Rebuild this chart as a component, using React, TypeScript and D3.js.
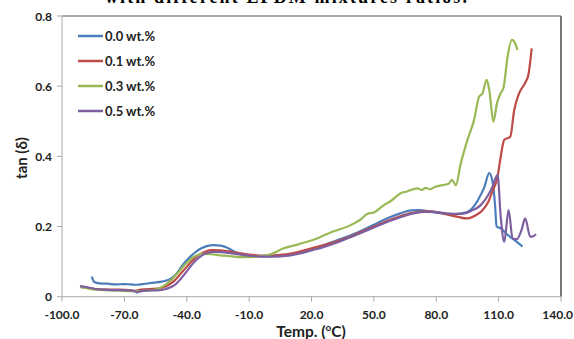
import React from "react";
import * as d3 from "d3";

const seriesNames = ["0.0 wt.%", "0.1 wt.%", "0.3 wt.%", "0.5 wt.%"];
const seriesColors = ["#4a7ebb", "#be4b48", "#98b954", "#7d5fa0"];

const blue: [number, number][] = [[-85.7,0.057],[-84.5,0.042],[-82,0.038],[-78,0.037],[-74,0.035],[-70,0.036],[-67,0.035],[-64,0.034],[-60,0.037],[-56,0.04],[-52,0.043],[-48,0.05],[-45,0.065],[-42,0.09],[-39,0.11],[-36,0.126],[-33,0.138],[-30,0.145],[-27,0.147],[-23,0.145],[-20,0.138],[-17,0.128],[-13,0.121],[-8,0.117],[-3,0.115],[2,0.116],[8,0.119],[14,0.125],[20,0.135],[26,0.147],[32,0.16],[38,0.173],[44,0.188],[50,0.205],[56,0.222],[62,0.236],[68,0.246],[72,0.247],[76,0.244],[82,0.238],[88,0.235],[93,0.238],[97,0.25],[100,0.275],[103,0.31],[105.5,0.352],[107,0.33],[108.3,0.26],[109,0.2],[111,0.195],[114,0.178],[118,0.16],[121.5,0.143]];

const red: [number, number][] = [[-91.3,0.028],[-88,0.025],[-84,0.022],[-80,0.021],[-76,0.02],[-72,0.02],[-68,0.019],[-65,0.017],[-62,0.02],[-58,0.022],[-54,0.023],[-50,0.03],[-46,0.045],[-43,0.065],[-40,0.085],[-37,0.105],[-34,0.12],[-31,0.129],[-28,0.133],[-24,0.132],[-20,0.129],[-15,0.124],[-10,0.12],[-5,0.117],[0,0.117],[5,0.119],[10,0.123],[15,0.13],[20,0.138],[26,0.147],[32,0.157],[38,0.17],[44,0.185],[50,0.2],[56,0.215],[62,0.228],[68,0.238],[74,0.243],[78,0.243],[84,0.236],[90,0.228],[95,0.223],[99,0.232],[102,0.245],[105,0.27],[107,0.3],[109.5,0.342],[111,0.399],[112.7,0.447],[114.3,0.452],[115.6,0.456],[117.5,0.532],[119.9,0.58],[123.1,0.613],[124.3,0.632],[125.9,0.708]];

const green: [number, number][] = [[-91.3,0.028],[-88,0.024],[-84,0.02],[-80,0.019],[-76,0.018],[-72,0.017],[-68,0.016],[-65,0.015],[-62,0.016],[-58,0.018],[-54,0.022],[-50,0.035],[-47,0.05],[-44,0.07],[-41,0.09],[-38,0.108],[-35,0.118],[-32,0.122],[-28,0.121],[-24,0.118],[-20,0.116],[-15,0.113],[-10,0.113],[-5,0.115],[0,0.12],[6.6,0.138],[14,0.15],[22.7,0.166],[30,0.185],[38.8,0.204],[44,0.222],[46.8,0.236],[50,0.24],[54.8,0.261],[58,0.272],[62.9,0.295],[66,0.3],[70.9,0.309],[73,0.304],[75,0.31],[77,0.306],[79,0.312],[83,0.318],[86,0.322],[87.5,0.333],[88.5,0.325],[89.4,0.318],[91.8,0.38],[95,0.447],[98.2,0.504],[100.6,0.57],[102.3,0.58],[104.2,0.618],[105.5,0.589],[107.5,0.499],[109.2,0.551],[111,0.58],[112.4,0.597],[114.3,0.684],[116.4,0.732],[117.5,0.727],[119.1,0.703]];

const purple: [number, number][] = [[-91.3,0.03],[-88,0.027],[-84,0.022],[-80,0.02],[-76,0.019],[-72,0.019],[-68,0.018],[-65,0.016],[-64,0.012],[-62,0.016],[-58,0.018],[-54,0.018],[-50,0.022],[-46,0.032],[-43,0.05],[-40,0.072],[-37,0.095],[-34,0.112],[-31,0.123],[-27,0.128],[-23,0.127],[-19,0.124],[-14,0.12],[-9,0.116],[-4,0.114],[0,0.114],[5,0.115],[10,0.118],[15,0.124],[20,0.132],[26,0.142],[32,0.154],[38,0.168],[44,0.182],[50,0.197],[56,0.212],[62,0.225],[68,0.236],[74,0.242],[80,0.241],[86,0.237],[92,0.236],[97,0.245],[101.4,0.261],[105,0.29],[107,0.313],[109.5,0.347],[111,0.228],[112.7,0.157],[114.8,0.247],[116.7,0.166],[118.8,0.164],[121,0.19],[122.8,0.223],[125.2,0.171],[126.5,0.172],[128,0.178]];

const seriesData = [blue, red, green, purple];
const xTicks = [-100, -70, -40, -10, 20, 50, 80, 110, 140];
const yTicks = [0, 0.2, 0.4, 0.6, 0.8];

const W = 574, H = 339;
const left = 62, right = 561, top = 16, bottom = 296.7;
const font = "Lato, 'Open Sans', sans-serif";

export default function App() {
  const x = d3.scaleLinear().domain([-100, 140]).range([left, right]);
  const y = d3.scaleLinear().domain([0, 0.8]).range([bottom, top]);
  const line = d3.line<[number, number]>().x(d => x(d[0])).y(d => y(d[1])).curve(d3.curveMonotoneX);
  return (
    <svg width={W} height={H} style={{ position: "absolute", left: 0, top: 0, background: "#fff" }}>
      <rect x={0} y={0} width={W} height={H} fill="#fff" />
      <text x={286} y={3} textAnchor="middle" fontFamily="'Liberation Serif', serif" fontWeight="bold" fontSize={18} textLength={362} fill="#000">with different EPDM mixtures ratios.</text>
      <line x1={left} x2={right} y1={top} y2={top} stroke="#555" strokeWidth={1.2} />
      <line x1={right} x2={right} y1={top} y2={bottom} stroke="#777" strokeWidth={2} />
      <line x1={left} x2={left} y1={top} y2={bottom} stroke="#aaa" strokeWidth={1} />
      <line x1={left} x2={right} y1={bottom} y2={bottom} stroke="#aaa" strokeWidth={1} />
      {yTicks.map(t => (
        <g key={"y" + t}>
          <line x1={left - 5} x2={left} y1={y(t)} y2={y(t)} stroke="#aaa" />
          <text x={52} y={y(t) + 4.5} textAnchor="end" fontFamily={font} fontWeight="bold" fontSize={12} fill="#222">{t === 0 ? "0" : t.toFixed(1)}</text>
        </g>
      ))}
      {xTicks.map((t, i) => {
        const last = i === xTicks.length - 1;
        return (
          <g key={"x" + t}>
            <line x1={x(t)} x2={x(t)} y1={bottom} y2={bottom + 5} stroke="#aaa" />
            <text x={last ? 573 : x(t)} y={319} textAnchor={last ? "end" : "middle"} fontFamily={font} fontWeight="bold" fontSize={12} fill="#222">{t.toFixed(1)}</text>
          </g>
        );
      })}
      <text transform={`translate(27,158) rotate(-90)`} textAnchor="middle" fontFamily={font} fontWeight="bold" fontSize={15} fill="#222">tan (δ)</text>
      <text x={311} y={337} textAnchor="middle" fontFamily={font} fontWeight="bold" fontSize={15.5} fill="#222">
        Temp. (<tspan dy={-6} fontSize={10}>o</tspan><tspan dy={6}>C)</tspan>
      </text>
      {seriesData.map((d, i) => (
        <path key={i} d={line(d) || ""} fill="none" stroke={seriesColors[i]} strokeWidth={2.2} strokeLinejoin="round" />
      ))}
      {seriesNames.map((n, i) => (
        <g key={n}>
          <line x1={78} x2={103} y1={36 + i * 25} y2={36 + i * 25} stroke={seriesColors[i]} strokeWidth={2.5} />
          <text x={105} y={40.5 + i * 25} fontFamily={font} fontWeight="bold" fontSize={13} fill="#222">{n}</text>
        </g>
      ))}
    </svg>
  );
}
